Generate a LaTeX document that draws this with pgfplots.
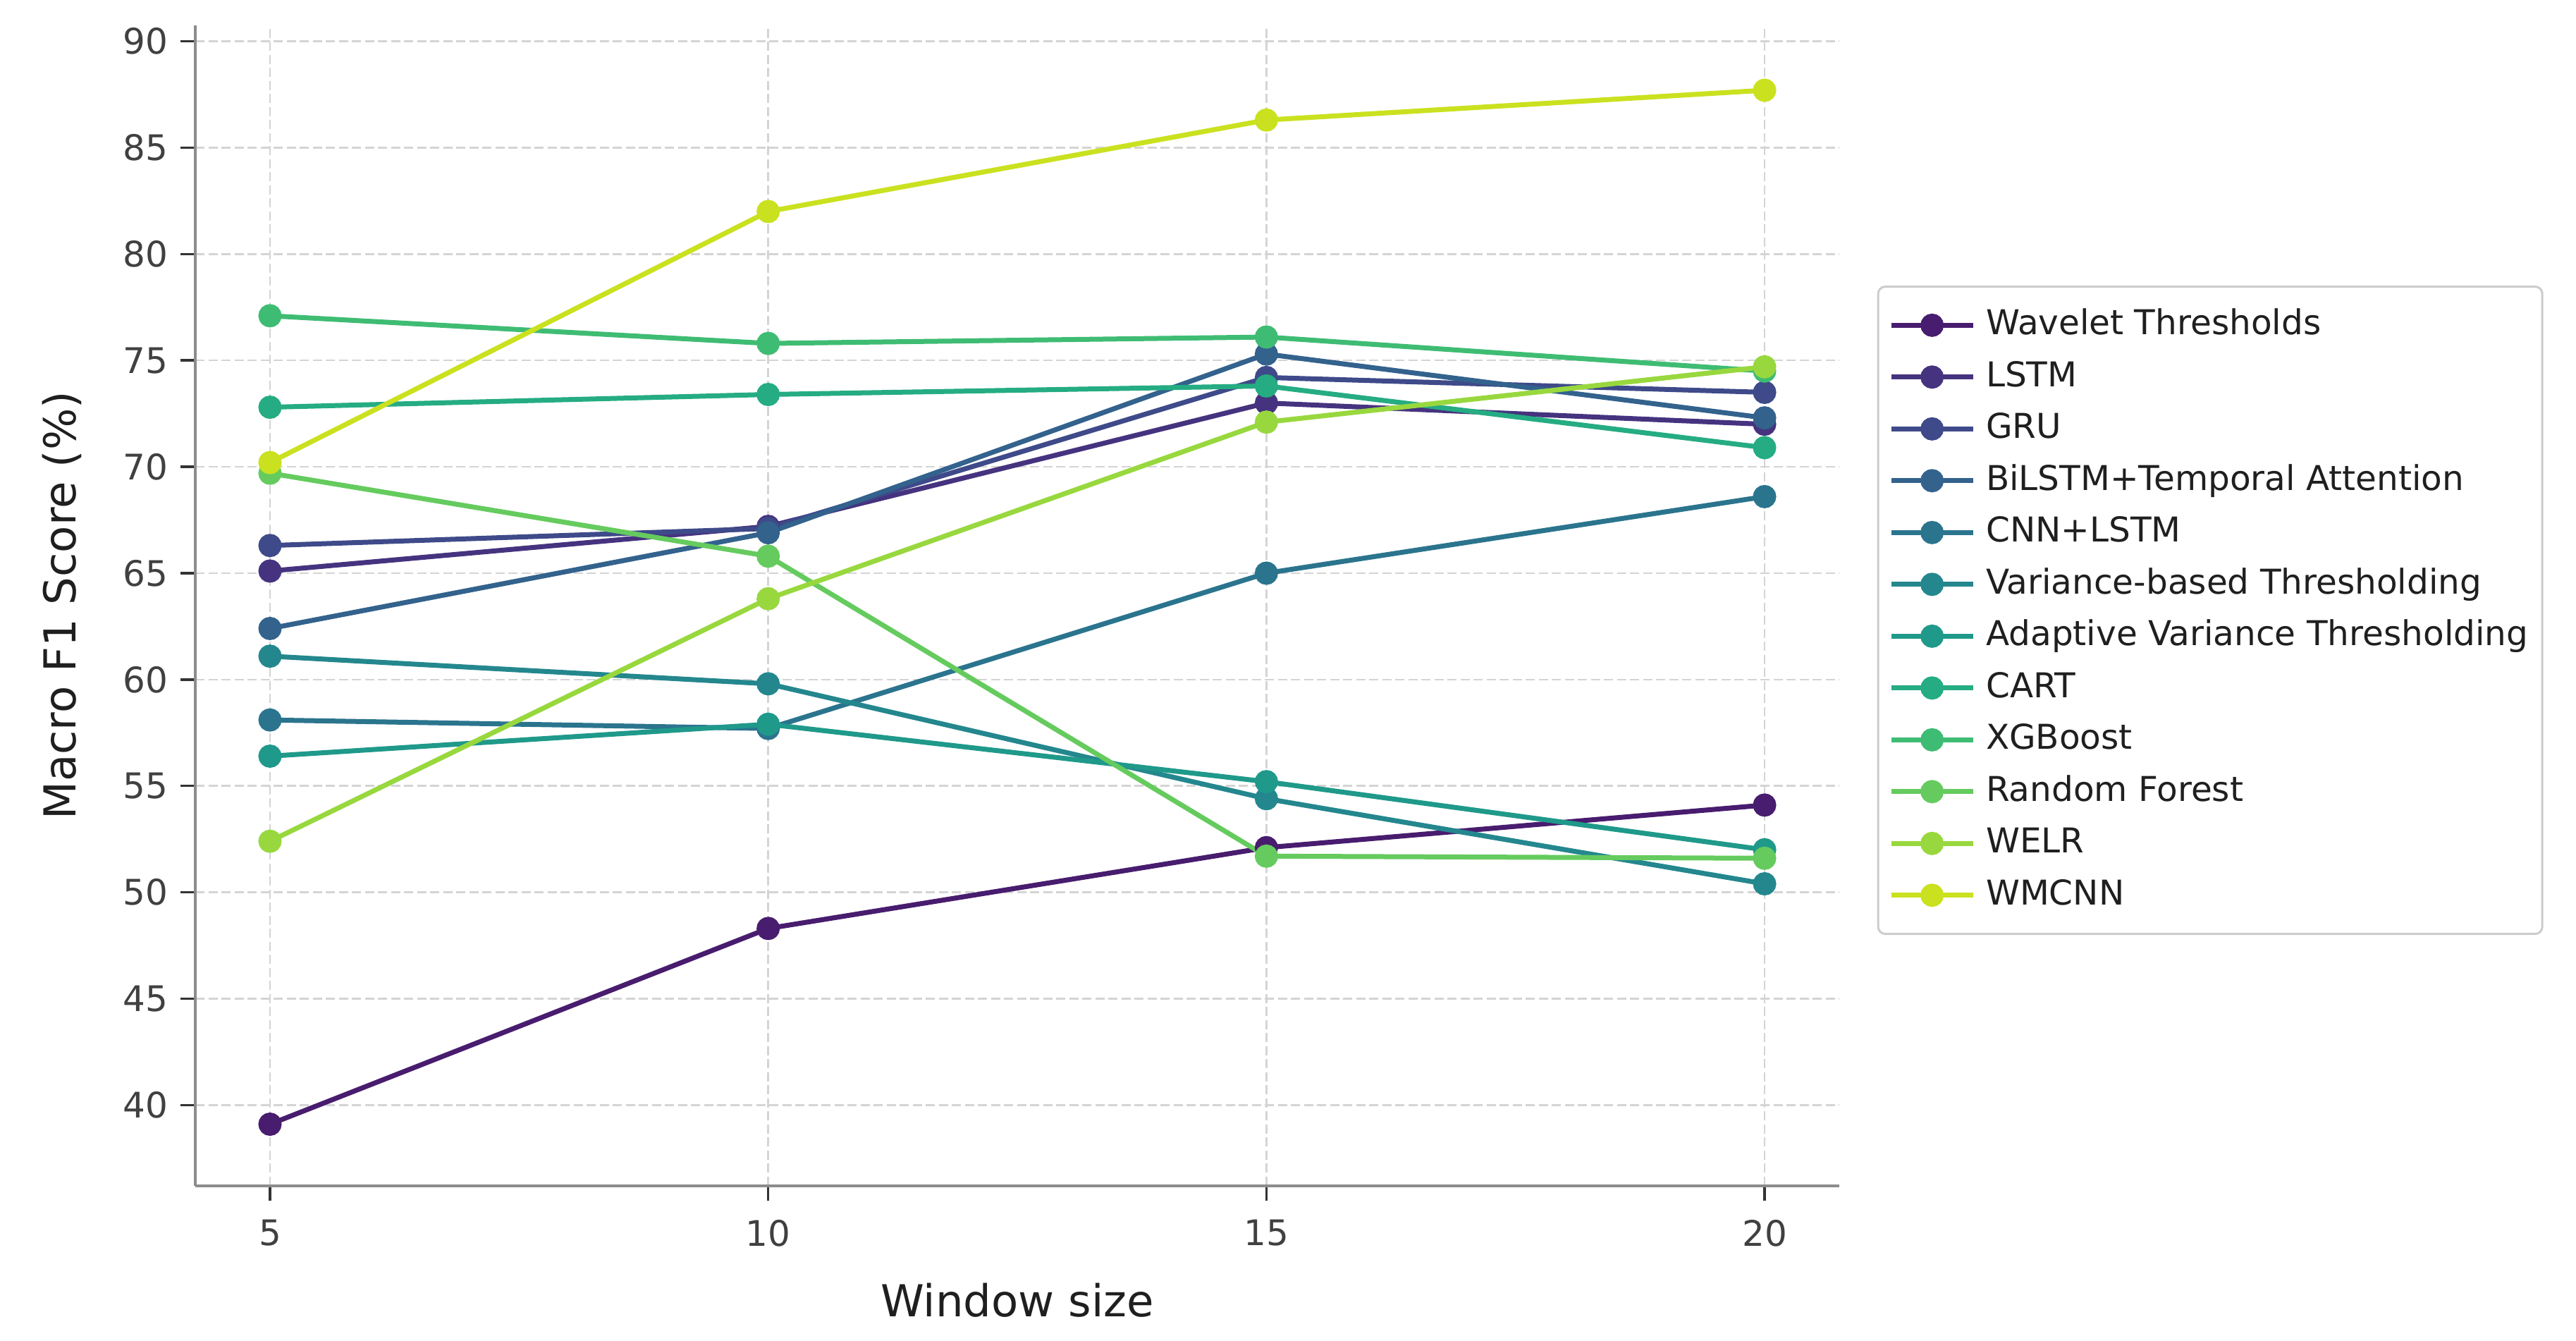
\documentclass[border=0pt]{standalone}
\usepackage{pgfplots}
\pgfplotsset{compat=1.18}
\usepackage{fontspec}
\setmainfont{DejaVu Sans}
\definecolor{c1}{HTML}{481C6E}
\definecolor{c2}{HTML}{46337F}
\definecolor{c3}{HTML}{3E4A89}
\definecolor{c4}{HTML}{33628D}
\definecolor{c5}{HTML}{2B748E}
\definecolor{c6}{HTML}{24878E}
\definecolor{c7}{HTML}{1F998A}
\definecolor{c8}{HTML}{25AC82}
\definecolor{c9}{HTML}{3FBC73}
\definecolor{c10}{HTML}{65CB5E}
\definecolor{c11}{HTML}{98D83E}
\definecolor{c12}{HTML}{CAE11F}
\begin{document}
\begin{tikzpicture}
\path[use as bounding box] (0,0) rectangle (730.8pt,380.2pt);
\begin{axis}[
  at={(55.4pt,43.8pt)}, anchor=south west,
  scale only axis, width=466.4pt, height=329.2pt,
  xmin=4.25, xmax=20.75, ymin=36.2, ymax=90.75,
  xtick={5,10,15,20}, ytick={40,45,...,90},
  axis lines*=left,
  axis line style={draw=black!45, line width=0.8pt},
  tick align=outside, major tick length=4.3pt,
  tick style={draw=black!80, line width=0.7pt},
  grid=major,
  major grid style={draw=black!17, line width=0.5pt, dash pattern=on 2.6pt off 1.1pt},
  ticklabel style={font=\fontsize{10}{12}\selectfont, text=black!75},
  xticklabel style={yshift=-1.8pt},
  /pgf/number format/assume math mode=true,
  xlabel={Window size}, ylabel={Macro F1 Score (\%)},
  label style={font=\fontsize{12.5}{15}\selectfont, text=black!88},
  xlabel style={at={(axis description cs:0.5,-0.1124)}, anchor=base},
  ylabel style={at={(axis description cs:-0.081,0.5)}, anchor=center},
  legend style={at={(1.023,0.496)}, anchor=west, draw=black!20, fill=white,
    rounded corners=2pt, line width=0.6pt,
    font=\fontsize{9.7}{12}\selectfont, text=black!88,
    inner xsep=3pt, inner ysep=5pt, row sep=2.8pt,
    nodes={inner sep=1pt, text height=7.6pt, text depth=2.3pt},
    /tikz/every odd column/.append style={column sep=2pt}},
  legend cell align=left,
  legend image code/.code={\draw[mark repeat=2,mark phase=2,#1] plot coordinates {(0pt,0pt)(11.6pt,0pt)(23.2pt,0pt)};},
  every axis plot/.append style={line width=1.4pt, mark=*, mark size=2.6pt},
]
\addplot[c1, mark options={fill=c1, draw=c1}] coordinates {(5,39.1)(10,48.3)(15,52.1)(20,54.1)};
\addlegendentry{Wavelet Thresholds}
\addplot[c2, mark options={fill=c2, draw=c2}] coordinates {(5,65.1)(10,67.2)(15,73.0)(20,72.0)};
\addlegendentry{LSTM}
\addplot[c3, mark options={fill=c3, draw=c3}] coordinates {(5,66.3)(10,67.1)(15,74.2)(20,73.5)};
\addlegendentry{GRU}
\addplot[c4, mark options={fill=c4, draw=c4}] coordinates {(5,62.4)(10,66.9)(15,75.3)(20,72.3)};
\addlegendentry{BiLSTM+Temporal Attention}
\addplot[c5, mark options={fill=c5, draw=c5}] coordinates {(5,58.1)(10,57.7)(15,65.0)(20,68.6)};
\addlegendentry{CNN+LSTM}
\addplot[c6, mark options={fill=c6, draw=c6}] coordinates {(5,61.1)(10,59.8)(15,54.4)(20,50.4)};
\addlegendentry{Variance-based Thresholding}
\addplot[c7, mark options={fill=c7, draw=c7}] coordinates {(5,56.4)(10,57.9)(15,55.2)(20,52.0)};
\addlegendentry{Adaptive Variance Thresholding}
\addplot[c8, mark options={fill=c8, draw=c8}] coordinates {(5,72.8)(10,73.4)(15,73.8)(20,70.9)};
\addlegendentry{CART}
\addplot[c9, mark options={fill=c9, draw=c9}] coordinates {(5,77.1)(10,75.8)(15,76.1)(20,74.5)};
\addlegendentry{XGBoost}
\addplot[c10, mark options={fill=c10, draw=c10}] coordinates {(5,69.7)(10,65.8)(15,51.7)(20,51.6)};
\addlegendentry{Random Forest}
\addplot[c11, mark options={fill=c11, draw=c11}] coordinates {(5,52.4)(10,63.8)(15,72.1)(20,74.7)};
\addlegendentry{WELR}
\addplot[c12, mark options={fill=c12, draw=c12}] coordinates {(5,70.2)(10,82.0)(15,86.3)(20,87.7)};
\addlegendentry{WMCNN}
\end{axis}
\end{tikzpicture}
\end{document}
